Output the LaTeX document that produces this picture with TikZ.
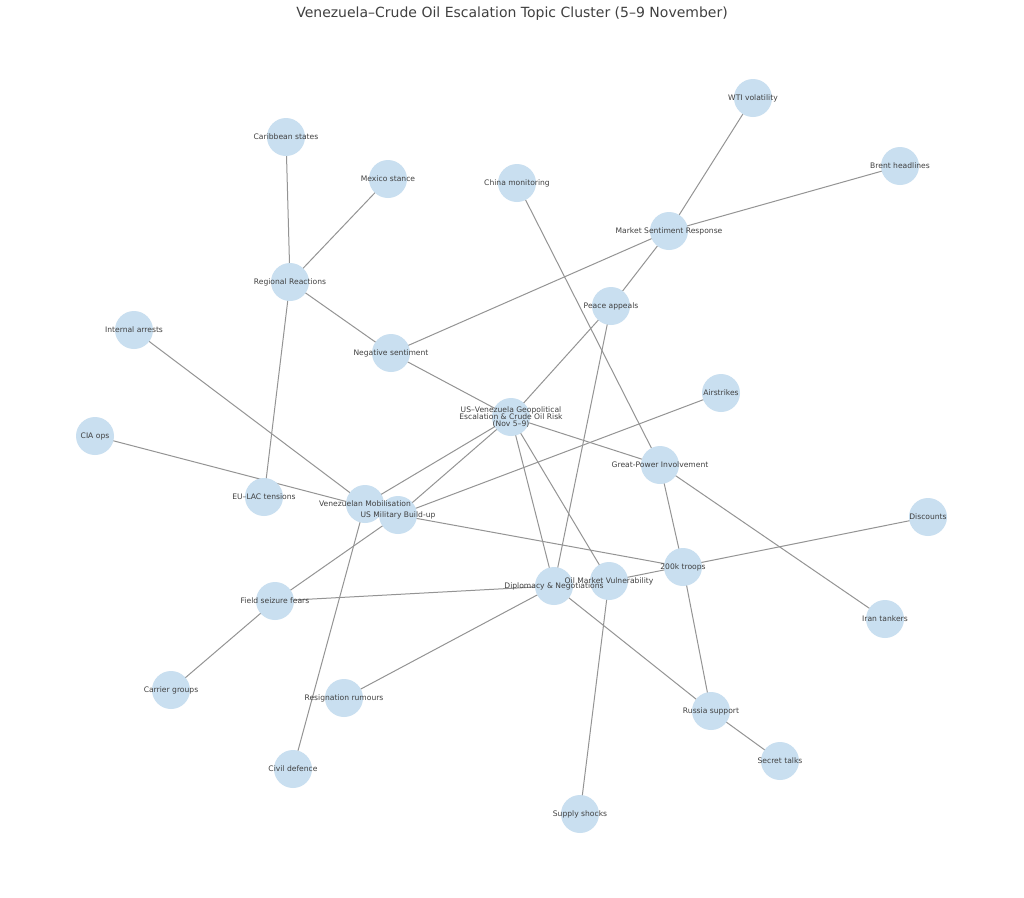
\documentclass[tikz,border=0pt]{standalone}
\usepackage{fontspec}
\setmainfont{DejaVu Sans}
\begin{document}
\begin{tikzpicture}[x=0.75pt,y=-0.75pt,
  nd/.style={circle,minimum size=28.5pt,inner sep=0pt},
  lb/.style={font=\fontsize{5.7}{6.5}\selectfont,text=black!75,align=center},
  ed/.style={draw=black!42,line width=0.75pt}]
\definecolor{nodefill}{HTML}{C9DFF0}
\useasboundingbox[fill=white] (0,0) rectangle (1024,897);
\node[font=\fontsize{10.5}{12}\selectfont,text=black!75] (title) at (512,14) {Venezuela–Crude Oil Escalation Topic Cluster (5–9 November)};
\foreach \n/\x/\y in {wti/753/98,brent/900/166,carib/286/137,mex/388/179,china/517/183,msr/669/231,reg/290/282,peace/611/306,arr/134/330,neg/391/353,air/721/393,cen/511/417,cia/95/436,gp/660/465,eu/264/497,ven/365/504,usm/398/515,disc/928/517,tr/683/567,oil/609/581,dip/554/586,field/275/601,iran/885/619,car/171/690,res/344/698,rus/711/711,sec/780/761,civ/293/769,sup/580/814}
  \node[nd] (\n) at (\x,\y) {};
\foreach \a/\b in {wti/msr,brent/msr,msr/neg,msr/peace,carib/reg,mex/reg,china/gp,reg/neg,reg/eu,neg/cen,arr/ven,cia/usm,air/usm,peace/cen,cen/ven,cen/usm,cen/gp,cen/dip,cen/oil,peace/dip,gp/tr,gp/iran,usm/tr,disc/oil,field/dip,field/usm,car/field,res/dip,dip/rus,tr/rus,rus/sec,civ/ven,sup/oil}
  \draw[ed] (\a.center) -- (\b.center);
\foreach \n in {wti,brent,carib,mex,china,msr,reg,peace,arr,neg,air,cen,cia,gp,eu,ven,usm,disc,tr,oil,dip,field,iran,car,res,rus,sec,civ,sup}
  \fill[nodefill] (\n.center) circle (19);
\foreach \n/\t in {wti/WTI volatility,brent/Brent headlines,carib/Caribbean states,mex/Mexico stance,china/China monitoring,msr/Market Sentiment Response,reg/Regional Reactions,peace/Peace appeals,arr/Internal arrests,neg/Negative sentiment,air/Airstrikes,cia/CIA ops,gp/Great-Power Involvement,eu/EU–LAC tensions,ven/Venezuelan Mobilisation,usm/US Military Build-up,disc/Discounts,tr/200k troops,oil/Oil Market Vulnerability,dip/Diplomacy \& Negotiations,field/Field seizure fears,iran/Iran tankers,car/Carrier groups,res/Resignation rumours,rus/Russia support,sec/Secret talks,civ/Civil defence,sup/Supply shocks}
  \node[lb] at (\n) {\t};
\node[lb] at (cen) {US–Venezuela Geopolitical\\[-1.2pt]Escalation \& Crude Oil Risk\\[-1.2pt](Nov 5–9)};
\end{tikzpicture}
\end{document}
